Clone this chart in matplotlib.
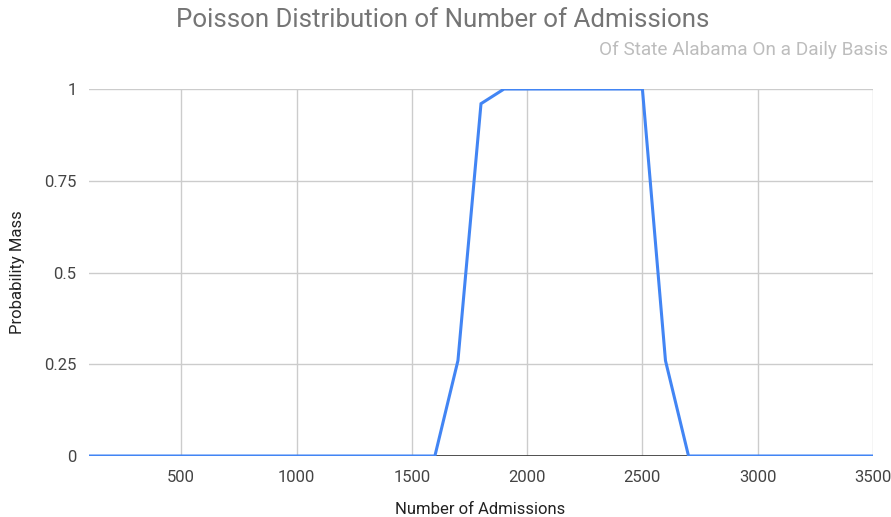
import matplotlib
matplotlib.use('Agg')
import matplotlib.pyplot as plt
import numpy as np

# admissions per day vs. probability mass
admissions = list(range(100, 3600, 100))
prob_mass = [0, 0, 0, 0, 0, 0, 0, 0, 0, 0, 0, 0, 0, 0, 0, 0,
             0.26, 0.96, 1, 1, 1, 1, 1, 1, 1, 0.26,
             0, 0, 0, 0, 0, 0, 0, 0, 0]
x_ticks = [500, 1000, 1500, 2000, 2500, 3000, 3500]
y_ticks = [0, 0.25, 0.5, 0.75, 1]
y_labels = ['0', '0.25', '0.5', '0.75', '1']

plt.rcParams['font.family'] = ['Roboto', 'DejaVu Sans']

W, H = 891, 517
fig = plt.figure(figsize=(W / 100, H / 100), dpi=100)
# axes box in pixels: left 89, right 873, top 89, bottom 456
ax = fig.add_axes([89 / W, 1 - 456 / H, (873 - 89) / W, (456 - 89) / H])

ax.plot(admissions, prob_mass, color='#4285f4', lw=2.2, solid_joinstyle='miter', zorder=3)
ax.axhline(0, color='#333333', lw=1.2, zorder=2)

ax.set_xlim(100, 3500)
ax.set_ylim(0, 1)
ax.set_xticks(x_ticks)
ax.set_yticks(y_ticks)
ax.set_yticklabels(y_labels)
ax.grid(True, color='#cccccc', lw=1, zorder=0)
ax.set_axisbelow(True)
for s in ax.spines.values():
    s.set_visible(False)
ax.tick_params(length=0, labelsize=12, labelcolor='#444444')
ax.tick_params(axis='x', pad=10)
ax.tick_params(axis='y', pad=9)

# axis titles placed in figure pixels
fig.text(480 / W, 1 - 510 / H, 'Number of Admissions',
         ha='center', va='center', fontsize=12, color='#222222')
fig.text(18 / W, 1 - 272 / H, 'Probability Mass', rotation=90,
         ha='center', va='center', fontsize=12, color='#222222')

fig.text(443 / W, 1 - 20 / H, 'Poisson Distribution of Number of Admissions',
         ha='center', va='center', fontsize=18.6, color='#757575')
fig.text(888 / W, 1 - 50 / H, 'Of State Alabama On a Daily Basis',
         ha='right', va='center', fontsize=13.7, color='#bdbdbd')

fig.savefig('out.png', dpi=100, facecolor='white')
